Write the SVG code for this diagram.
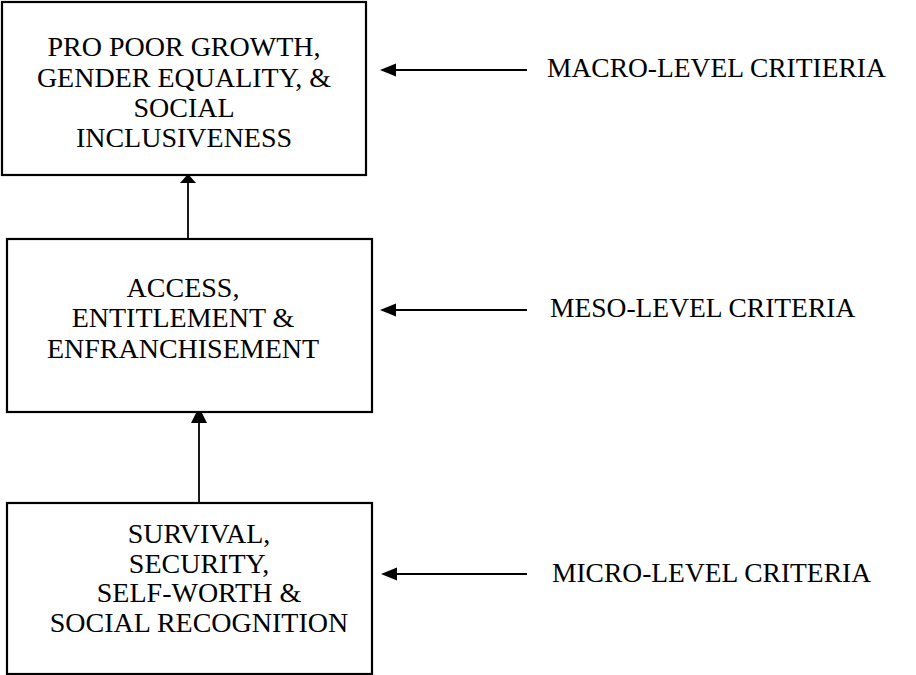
<svg xmlns="http://www.w3.org/2000/svg" width="916" height="675" viewBox="0 0 916 675">
<style>
.box{fill:#fff;stroke:#000;stroke-width:2.2}
.t{font-family:"Liberation Serif","Times New Roman",serif;font-size:28px;fill:#000;text-anchor:middle}
.lbl{font-family:"Liberation Serif","Times New Roman",serif;font-size:27.5px;fill:#000}
.ln{stroke:#000;stroke-width:1.8;fill:none}
.hd{fill:#000}
</style>
<rect width="916" height="675" fill="#fff"/>
<g id="connectors">
<line class="ln" x1="188" y1="239" x2="188" y2="180"/>
<polygon class="hd" points="188,174 196,183 180,183"/>
<line class="ln" x1="199" y1="503" x2="199" y2="414"/>
<polygon class="hd" points="199,407 207,423 191,423"/>
<line class="ln" x1="390" y1="70" x2="527" y2="70"/>
<polygon class="hd" points="380,70 396,63.5 396,76.5"/>
<line class="ln" x1="390" y1="310" x2="527" y2="310"/>
<polygon class="hd" points="380,310 396,303.5 396,316.5"/>
<line class="ln" x1="390" y1="574" x2="527" y2="574"/>
<polygon class="hd" points="381,574 397,567.5 397,580.5"/>
</g>
<g id="node-macro">
<rect class="box" x="2" y="2" width="364" height="173"/>
<text class="t" x="184" y="56">PRO POOR GROWTH,</text>
<text class="t" x="184" y="87">GENDER EQUALITY, &amp;</text>
<text class="t" x="184" y="117">SOCIAL</text>
<text class="t" x="184" y="147">INCLUSIVENESS</text>
</g>
<g id="node-meso">
<rect class="box" x="7" y="239" width="365" height="173"/>
<text class="t" x="183" y="297">ACCESS,</text>
<text class="t" x="183" y="327">ENTITLEMENT &amp;</text>
<text class="t" x="183" y="358">ENFRANCHISEMENT</text>
</g>
<g id="node-micro">
<rect class="box" x="7" y="503" width="365" height="171"/>
<text class="t" x="199" y="543">SURVIVAL,</text>
<text class="t" x="199" y="573">SECURITY,</text>
<text class="t" x="199" y="602">SELF-WORTH &amp;</text>
<text class="t" x="199" y="632">SOCIAL RECOGNITION</text>
</g>
<g id="labels">
<text class="lbl" x="547" y="77">MACRO-LEVEL CRITIERIA</text>
<text class="lbl" x="550" y="317">MESO-LEVEL CRITERIA</text>
<text class="lbl" x="552" y="582">MICRO-LEVEL CRITERIA</text>
</g>
</svg>
